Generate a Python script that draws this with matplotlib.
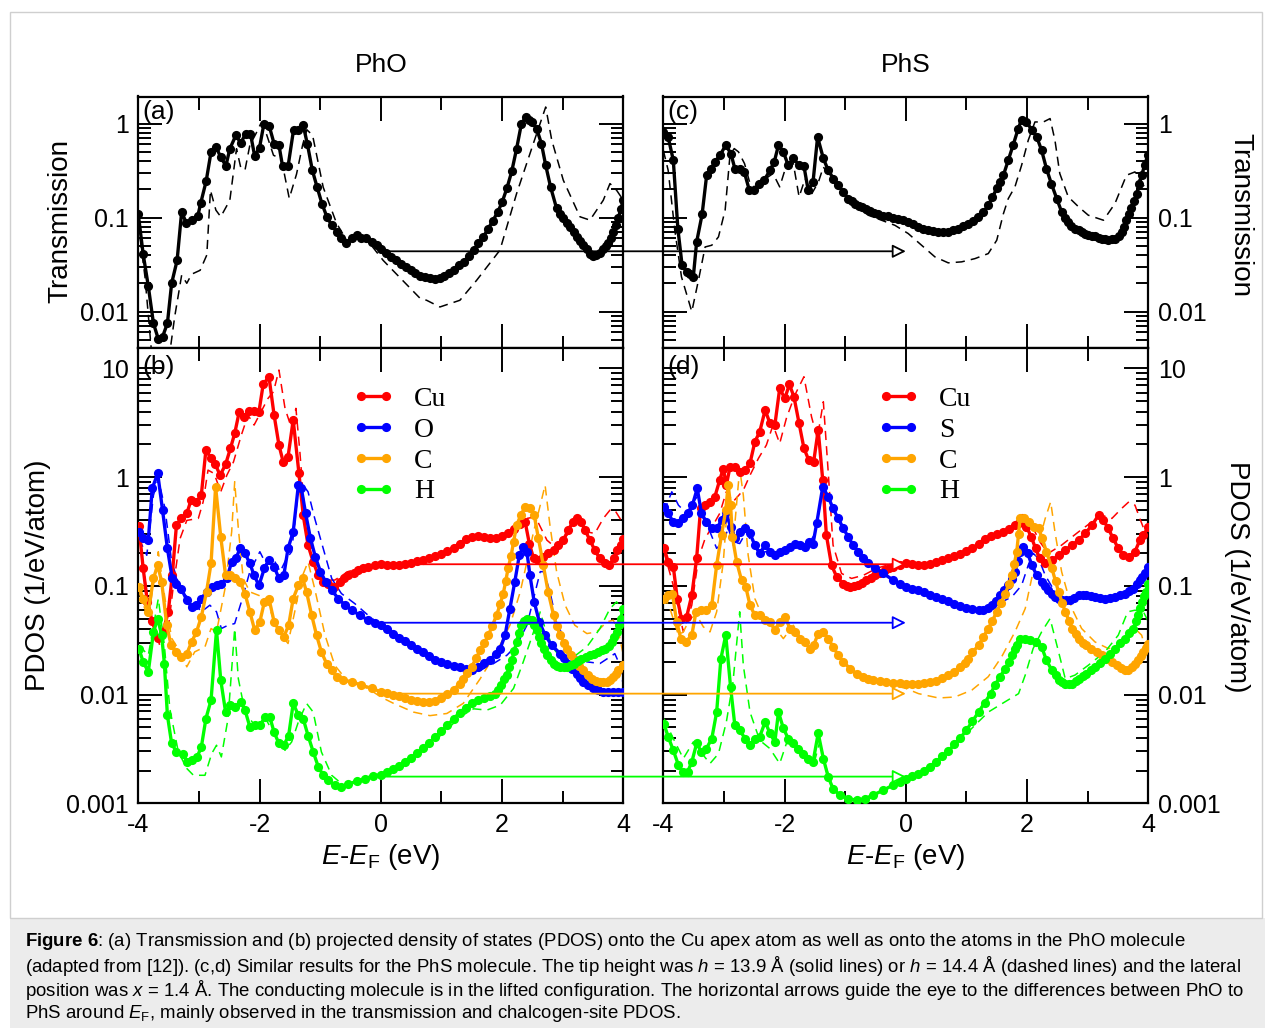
import numpy as np
import matplotlib
matplotlib.use("Agg")
import matplotlib.pyplot as plt
from matplotlib.patches import ConnectionPatch, Rectangle
from matplotlib.lines import Line2D
from matplotlib.ticker import FixedLocator, FuncFormatter, LogLocator, NullFormatter

plt.rcParams['font.family'] = ['Liberation Sans', 'DejaVu Sans']
plt.rcParams['mathtext.fontset'] = 'custom'
plt.rcParams['mathtext.rm'] = 'Liberation Sans'
plt.rcParams['mathtext.it'] = 'Liberation Sans:italic'
plt.rcParams['mathtext.bf'] = 'Liberation Sans:bold'

# ---------------- data: (energy E-EF [eV], value) ----------------
# Transmission, PhO (a)
T_pho_solid = [(-4.0,0.108),(-3.92,0.041),(-3.835,0.0186),(-3.75,0.0075),(-3.67,0.0051),(-3.60,0.0054),(-3.52,0.0075),
    (-3.45,0.020),(-3.36,0.035),(-3.285,0.115),(-3.21,0.088),(-3.12,0.094),(-3.02,0.103),(-2.97,0.143),(-2.88,0.245),
    (-2.80,0.50),(-2.72,0.565),(-2.64,0.44),(-2.555,0.355),(-2.49,0.54),(-2.39,0.75),(-2.31,0.62),(-2.23,0.78),(-2.15,0.78),
    (-2.08,0.45),(-2.00,0.556),(-1.93,0.98),(-1.84,0.94),(-1.76,0.61),(-1.68,0.59),(-1.62,0.35),(-1.53,0.35),(-1.44,0.85),
    (-1.36,0.86),(-1.28,0.96),(-1.21,0.60),(-1.13,0.32),(-1.05,0.21),(-0.97,0.14),(-0.89,0.102),(-0.81,0.083),(-0.73,0.071),
    (-0.65,0.060),(-0.57,0.053),(-0.48,0.060),(-0.40,0.065),(-0.32,0.060),(-0.24,0.060),(-0.15,0.055),(-0.07,0.051),
    (0.01,0.046),(0.09,0.042),(0.17,0.038),(0.25,0.035),(0.33,0.032),(0.41,0.030),(0.49,0.0275),(0.57,0.0255),(0.65,0.0242),
    (0.73,0.0234),(0.81,0.0228),(0.89,0.0223),(0.97,0.0228),(1.05,0.0240),(1.13,0.0258),(1.21,0.028),(1.29,0.031),
    (1.37,0.034),(1.45,0.039),(1.53,0.045),(1.61,0.053),(1.69,0.062),(1.77,0.076),(1.85,0.093),(1.93,0.115),(2.00,0.145),
    (2.08,0.205),(2.16,0.31),(2.24,0.54),(2.32,1.0),(2.39,1.16),(2.45,1.10),(2.49,1.04),(2.57,0.885),(2.65,0.61),(2.72,0.36),
    (2.80,0.212),(2.90,0.125),(2.96,0.11),(3.01,0.098),(3.07,0.088),(3.12,0.080),(3.18,0.071),(3.23,0.062),(3.29,0.056),
    (3.34,0.051),(3.40,0.046),(3.45,0.041),(3.50,0.0395),(3.55,0.040),(3.61,0.042),(3.66,0.046),(3.71,0.050),(3.75,0.054),
    (3.79,0.061),(3.83,0.070),(3.88,0.083),(3.92,0.10),(3.96,0.124),(4.0,0.152)]
T_pho_dash = [(-4.0,0.086),(-3.89,0.0234),(-3.78,0.0036),(-3.64,0.0022),(-3.49,0.0033),(-3.40,0.0088),(-3.285,0.0244),
    (-3.20,0.020),(-3.12,0.025),(-2.98,0.0275),(-2.87,0.040),(-2.81,0.195),(-2.72,0.12),(-2.64,0.102),(-2.49,0.153),
    (-2.38,0.54),(-2.31,0.34),(-2.24,0.32),(-2.16,0.59),(-2.06,0.78),(-1.98,1.0),(-1.91,0.86),(-1.77,0.46),(-1.64,0.42),
    (-1.51,0.16),(-1.39,0.29),(-1.29,0.59),(-1.22,0.86),(-1.125,0.75),(-0.95,0.21),(-0.73,0.087),(-0.56,0.057),(-0.40,0.062),
    (-0.18,0.053),(0.04,0.035),(0.26,0.025),(0.65,0.0138),(0.755,0.0132),(0.975,0.0112),(1.305,0.0132),(1.58,0.0215),
    (1.965,0.045),(2.24,0.18),(2.515,0.61),(2.72,1.5),(2.82,0.665),(3.01,0.25),(3.285,0.102),(3.45,0.094),(3.67,0.153),
    (3.78,0.23),(3.89,0.195),(4.0,0.153)]

# Transmission, PhS (c)
T_phs_solid = [(-4.0,0.815),(-3.92,0.72),(-3.835,0.407),(-3.76,0.0764),(-3.69,0.0311),(-3.615,0.0264),(-3.56,0.0254),
    (-3.505,0.0234),(-3.45,0.055),(-3.36,0.108),(-3.285,0.282),(-3.21,0.332),(-3.15,0.391),(-3.065,0.46),(-2.97,0.589),
    (-2.885,0.48),(-2.82,0.332),(-2.735,0.332),(-2.665,0.306),(-2.58,0.195),(-2.50,0.195),(-2.42,0.23),(-2.335,0.25),
    (-2.24,0.319),(-2.17,0.391),(-2.10,0.589),(-2.02,0.50),(-1.94,0.36),(-1.855,0.425),(-1.76,0.36),(-1.68,0.352),
    (-1.61,0.195),(-1.53,0.24),(-1.455,0.72),(-1.36,0.425),(-1.28,0.319),(-1.195,0.26),(-1.115,0.221),(-1.03,0.1875),
    (-0.95,0.159),(-0.89,0.149),(-0.84,0.141),(-0.78,0.134),(-0.73,0.128),(-0.66,0.123),(-0.59,0.118),(-0.52,0.113),
    (-0.455,0.108),(-0.37,0.105),(-0.29,0.103),(-0.21,0.100),(-0.125,0.0975),(-0.04,0.094),(0.04,0.09),(0.12,0.085),
    (0.205,0.0796),(0.29,0.076),(0.37,0.0733),(0.45,0.0715),(0.535,0.0704),(0.62,0.0700),(0.70,0.0704),(0.78,0.073),
    (0.865,0.0764),(0.95,0.081),(1.03,0.0863),(1.11,0.093),(1.195,0.1017),(1.28,0.115),(1.36,0.135),(1.43,0.165),
    (1.50,0.204),(1.56,0.24),(1.61,0.282),(1.69,0.407),(1.77,0.589),(1.855,0.885),(1.91,1.10),(1.99,1.04),(2.075,0.863),
    (2.16,0.72),(2.24,0.52),(2.32,0.332),(2.40,0.23),(2.49,0.159),(2.57,0.115),(2.62,0.10),(2.68,0.09),(2.73,0.082),
    (2.79,0.0764),(2.85,0.073),(2.90,0.0704),(2.96,0.067),(3.01,0.0649),(3.07,0.064),(3.12,0.0633),(3.18,0.061),
    (3.23,0.0598),(3.29,0.059),(3.34,0.0583),(3.40,0.059),(3.45,0.0598),(3.51,0.064),(3.56,0.0704),(3.60,0.08),
    (3.64,0.0937),(3.68,0.108),(3.72,0.125),(3.77,0.15),(3.81,0.18),(3.85,0.225),(3.89,0.282),(3.94,0.36),(3.99,0.46)]
T_phs_dash = [(-4.0,0.52),(-3.92,0.319),(-3.81,0.0733),(-3.70,0.0234),(-3.53,0.0100),(-3.42,0.0216),(-3.31,0.0487),
    (-3.20,0.0508),(-3.09,0.0623),(-2.98,0.12),(-2.90,0.46),(-2.83,0.542),(-2.76,0.50),(-2.66,0.375),(-2.57,0.23),
    (-2.49,0.212),(-2.38,0.23),(-2.27,0.271),(-2.19,0.294),(-2.08,0.212),(-1.97,0.36),(-1.855,0.375),(-1.76,0.166),
    (-1.66,0.26),(-1.55,0.18),(-1.44,0.24),(-1.36,0.346),(-1.22,0.25),(-1.06,0.1875),(-0.84,0.135),(-0.62,0.106),
    (-0.40,0.0937),(-0.18,0.0828),(0.04,0.0676),(0.26,0.0508),(0.48,0.0382),(0.70,0.033),(0.92,0.0338),(1.14,0.0366),
    (1.36,0.0414),(1.50,0.0574),(1.61,0.11),(1.69,0.159),(1.80,0.212),(1.91,0.36),(2.02,0.665),(2.13,1.04),(2.27,1.04),
    (2.38,1.13),(2.46,0.665),(2.54,0.294),(2.68,0.166),(2.85,0.13),(3.01,0.106),(3.26,0.0937),(3.45,0.141),(3.64,0.282),
    (3.78,0.306),(3.89,0.23),(4.0,0.195)]

# PDOS, PhO (b)
cu_pho = [(-3.99,0.354),(-3.92,0.145),(-3.85,0.071),(-3.77,0.047),(-3.68,0.033),(-3.59,0.038),(-3.505,0.058),(-3.44,0.125),
    (-3.37,0.366),(-3.29,0.417),(-3.20,0.463),(-3.13,0.614),(-3.04,0.593),(-2.96,0.69),(-2.885,1.77),(-2.80,1.49),
    (-2.73,1.31),(-2.65,1.04),(-2.56,1.31),(-2.48,1.84),(-2.41,2.52),(-2.335,3.99),(-2.26,3.59),(-2.18,4.05),(-2.09,4.05),
    (-2.01,3.99),(-1.94,7.13),(-1.845,8.38),(-1.76,3.72),(-1.68,1.97),(-1.61,1.38),(-1.53,1.54),(-1.445,3.35),(-1.35,1.08),
    (-1.28,0.447),(-1.20,0.237),(-1.115,0.166),(-1.03,0.125),(-0.95,0.109),(-0.87,0.103),(-0.77,0.098),(-0.68,0.109),
    (-0.60,0.117),(-0.54,0.125),(-0.45,0.132),(-0.37,0.139),(-0.29,0.145),(-0.21,0.150),(-0.1,0.155),
    (0.0,0.158),(0.1,0.156),(0.2,0.155),(0.3,0.157),(0.4,0.160),(0.5,0.163),(0.6,0.168),(0.7,0.174),(0.8,0.181),(0.9,0.188),
    (1.0,0.196),(1.1,0.207),(1.2,0.225),(1.3,0.245),(1.4,0.268),(1.5,0.284),(1.6,0.288),(1.7,0.280),(1.8,0.273),(1.9,0.278),
    (2.0,0.29),(2.1,0.305),(2.2,0.33),(2.3,0.37),(2.38,0.39),(2.45,0.245),(2.52,0.179),(2.6,0.172),(2.68,0.185),(2.76,0.199),
    (2.85,0.213),(2.93,0.237),(3.01,0.263),(3.09,0.325),(3.17,0.388),(3.23,0.417),(3.30,0.388),(3.37,0.325),(3.45,0.263),
    (3.53,0.213),(3.61,0.179),(3.70,0.161),(3.77,0.155),(3.84,0.179),(3.90,0.213),(3.96,0.24),(4.0,0.27)]
cu_pho_dash = [(-3.99,0.32),(-3.835,0.066),(-3.64,0.0275),(-3.505,0.041),(-3.42,0.102),(-3.31,0.273),(-3.20,0.40),
    (-3.01,0.417),(-2.93,0.593),(-2.85,1.16),(-2.75,1.08),(-2.64,0.733),(-2.54,1.04),(-2.43,1.38),(-2.30,2.44),(-2.19,3.72),
    (-2.09,3.01),(-1.99,3.85),(-1.86,5.30),(-1.77,6.10),(-1.68,9.66),(-1.58,4.29),(-1.48,2.90),(-1.40,4.29),(-1.335,1.71),
    (-1.25,0.417),(-1.17,0.206),(-1.06,0.135),(-0.92,0.113),(-0.76,0.113),(-0.54,0.135),(-0.21,0.155),(0.0,0.162),
    (0.2,0.157),(0.5,0.163),(0.8,0.180),(1.1,0.207),(1.4,0.27),(1.6,0.29),(1.8,0.275),(2.0,0.29),(2.2,0.33),(2.41,0.417),
    (2.55,0.431),(2.63,0.35),(2.74,0.263),(2.90,0.221),(3.07,0.292),(3.23,0.388),(3.40,0.314),(3.53,0.303),(3.67,0.417),
    (3.78,0.497),(3.86,0.497),(3.945,0.417),(4.0,0.37)]
o_pho = [(-3.99,0.314),(-3.92,0.273),(-3.835,0.263),(-3.77,0.787),(-3.68,1.08),(-3.60,0.497),(-3.52,0.221),(-3.44,0.117),
    (-3.37,0.105),(-3.29,0.094),(-3.20,0.0738),(-3.12,0.064),(-3.04,0.0664),(-2.96,0.0764),(-2.875,0.088),(-2.79,0.098),
    (-2.71,0.101),(-2.63,0.105),(-2.54,0.117),(-2.46,0.166),(-2.39,0.179),(-2.32,0.221),(-2.24,0.199),(-2.16,0.161),
    (-2.09,0.125),(-2.01,0.101),(-1.92,0.145),(-1.845,0.172),(-1.76,0.150),(-1.68,0.117),(-1.60,0.125),(-1.53,0.221),
    (-1.445,0.314),(-1.36,0.843),(-1.31,0.787),(-1.24,0.463),(-1.16,0.273),(-1.08,0.185),(-0.995,0.135),(-0.91,0.109),
    (-0.81,0.091),(-0.70,0.0764),(-0.59,0.0664),(-0.48,0.0597),(-0.345,0.0537),(-0.21,0.0483),(-0.1,0.0455),
    (0.0,0.044),(0.1,0.040),(0.2,0.036),(0.3,0.033),(0.4,0.031),(0.5,0.0285),(0.6,0.0265),(0.7,0.0245),(0.8,0.0224),
    (0.9,0.021),(1.0,0.020),(1.1,0.0192),(1.2,0.0185),(1.3,0.0178),(1.4,0.0172),(1.5,0.0167),(1.6,0.0178),(1.7,0.0194),
    (1.8,0.021),(1.9,0.0235),(1.97,0.0265),(2.05,0.0352),(2.13,0.0618),(2.21,0.109),(2.285,0.191),(2.35,0.229),(2.41,0.206),
    (2.46,0.125),(2.53,0.0713),(2.615,0.0467),(2.71,0.0352),(2.82,0.0284),(2.96,0.0238),(3.03,0.0215),(3.09,0.0193),
    (3.16,0.0173),(3.23,0.0156),(3.29,0.0142),(3.34,0.0131),(3.42,0.0122),(3.505,0.0114),(3.59,0.011),(3.67,0.0106),
    (3.75,0.0106),(3.835,0.0106),(3.92,0.0106),(3.99,0.0106)]
o_pho_dash = [(-3.99,0.273),(-3.86,0.191),(-3.75,0.682),(-3.67,0.97),(-3.56,0.515),(-3.45,0.166),(-3.29,0.088),(-3.09,0.0713),
    (-2.96,0.0577),(-2.82,0.0664),(-2.71,0.0577),(-2.63,0.0405),(-2.52,0.0434),(-2.41,0.045),(-2.30,0.0713),(-2.16,0.135),
    (-1.995,0.206),(-1.885,0.155),(-1.775,0.179),(-1.66,0.135),(-1.555,0.179),(-1.47,0.206),(-1.36,0.787),(-1.28,0.843),
    (-1.20,0.733),(-1.09,0.417),(-0.95,0.221),(-0.81,0.117),(-0.65,0.085),(-0.43,0.0687),(-0.21,0.0537),(0.0,0.0434),
    (0.2,0.038),(0.5,0.029),(0.8,0.0225),(1.1,0.019),(1.42,0.0156),(1.64,0.0167),(1.86,0.0193),(2.08,0.023),(2.24,0.0284),
    (2.41,0.0434),(2.52,0.0764),(2.63,0.135),(2.69,0.135),(2.79,0.088),(2.90,0.0467),(3.07,0.0284),(3.23,0.0222),
    (3.40,0.020),(3.615,0.0193),(3.78,0.0222),(3.86,0.0238),(3.945,0.0186),(3.99,0.0131)]
c_pho = [(-3.99,0.098),(-3.92,0.0764),(-3.835,0.0577),(-3.75,0.117),(-3.68,0.155),(-3.615,0.109),(-3.53,0.0434),
    (-3.46,0.0284),(-3.385,0.0247),(-3.30,0.0222),(-3.20,0.0238),(-3.12,0.0305),(-3.04,0.0377),(-2.96,0.0519),(-2.875,0.088),
    (-2.80,0.161),(-2.725,0.814),(-2.64,0.282),(-2.56,0.125),(-2.48,0.125),(-2.41,0.117),(-2.32,0.109),(-2.24,0.085),
    (-2.16,0.0577),(-2.08,0.0391),(-1.995,0.0467),(-1.92,0.0713),(-1.845,0.0764),(-1.76,0.0467),(-1.68,0.0391),(-1.60,0.034),
    (-1.52,0.0434),(-1.445,0.0764),(-1.36,0.101),(-1.29,0.117),(-1.225,0.088),(-1.14,0.0537),(-1.06,0.0352),(-0.98,0.0247),
    (-0.895,0.0193),(-0.81,0.0167),(-0.73,0.0146),(-0.62,0.0136),(-0.48,0.0131),(-0.32,0.0122),(-0.15,0.0114),
    (0.0,0.0106),(0.1,0.0103),(0.2,0.0100),(0.3,0.0096),(0.4,0.0093),(0.5,0.0090),(0.6,0.0088),(0.7,0.0086),(0.8,0.0086),
    (0.9,0.0088),(1.0,0.0093),(1.1,0.0101),(1.2,0.011),(1.3,0.0126),(1.36,0.014),(1.43,0.0158),(1.50,0.018),(1.57,0.0215),
    (1.64,0.0256),(1.71,0.030),(1.775,0.0352),(1.84,0.043),(1.91,0.0537),(1.97,0.068),(2.02,0.085),(2.06,0.11),(2.10,0.145),
    (2.15,0.19),(2.19,0.254),(2.24,0.361),(2.31,0.447),(2.38,0.533),(2.46,0.522),(2.53,0.447),(2.60,0.273),(2.68,0.155),
    (2.76,0.088),(2.85,0.0537),(2.90,0.043),(2.96,0.0352),(3.02,0.030),(3.07,0.0265),(3.14,0.023),(3.20,0.0207),
    (3.27,0.0185),(3.34,0.0167),(3.41,0.015),(3.48,0.014),(3.55,0.0134),(3.615,0.0131),(3.67,0.013),(3.725,0.0131),
    (3.78,0.0137),(3.835,0.0146),(3.88,0.0155),(3.92,0.0167),(3.99,0.0186)]
c_pho_dash = [(-3.99,0.088),(-3.835,0.050),(-3.67,0.206),(-3.56,0.0764),(-3.45,0.033),(-3.31,0.0247),(-3.20,0.018),
    (-3.07,0.0247),(-2.90,0.0275),(-2.80,0.0405),(-2.71,0.0377),(-2.57,0.094),(-2.46,0.314),(-2.41,0.906),(-2.35,0.337),
    (-2.27,0.117),(-2.16,0.088),(-2.02,0.082),(-1.885,0.0764),(-1.775,0.050),(-1.64,0.0352),(-1.53,0.0295),(-1.42,0.0577),
    (-1.31,0.117),(-1.20,0.166),(-1.09,0.094),(-0.92,0.0352),(-0.76,0.0186),(-0.54,0.0131),(-0.21,0.0114),(0.0,0.0095),
    (0.21,0.0083),(0.54,0.0069),(0.81,0.0064),(1.09,0.0067),(1.36,0.0083),(1.64,0.014),(1.91,0.0247),(2.13,0.0434),
    (2.30,0.088),(2.41,0.166),(2.52,0.314),(2.63,0.552),(2.71,0.843),(2.79,0.361),(2.90,0.135),(3.04,0.0664),(3.20,0.0434),
    (3.40,0.0364),(3.56,0.0377),(3.73,0.0467),(3.835,0.0483),(3.92,0.0377),(3.99,0.0247)]
h_pho = [(-3.99,0.0265),(-3.92,0.020),(-3.835,0.0162),(-3.75,0.0377),(-3.68,0.050),(-3.615,0.0352),(-3.57,0.0193),
    (-3.52,0.00646),(-3.45,0.00355),(-3.37,0.00297),(-3.27,0.00286),(-3.19,0.0024),(-3.11,0.00249),(-3.03,0.00267),
    (-2.96,0.0033),(-2.885,0.006),(-2.80,0.0089),(-2.71,0.0391),(-2.64,0.0136),(-2.56,0.0069),(-2.48,0.008),(-2.40,0.0077),
    (-2.31,0.0086),(-2.24,0.0072),(-2.16,0.00505),(-2.08,0.0052),(-1.995,0.0052),(-1.91,0.0062),(-1.83,0.0062),
    (-1.76,0.0045),(-1.68,0.00355),(-1.60,0.00342),(-1.52,0.0042),(-1.445,0.0083),(-1.36,0.00646),(-1.28,0.006),
    (-1.20,0.0042),(-1.115,0.00297),(-1.03,0.00216),(-0.95,0.00181),(-0.87,0.00163),(-0.76,0.00147),(-0.65,0.00141),
    (-0.54,0.00149),(-0.40,0.0016),(-0.26,0.00169),(-0.13,0.00178),
    (0.0,0.00184),(0.1,0.00195),(0.2,0.00207),(0.3,0.0022),(0.4,0.00242),(0.5,0.00263),(0.6,0.00292),(0.7,0.0032),
    (0.8,0.0036),(0.9,0.0041),(1.0,0.0046),(1.1,0.0052),(1.2,0.0060),(1.3,0.0068),(1.4,0.0076),(1.5,0.0083),(1.6,0.0089),
    (1.7,0.0093),(1.8,0.0097),(1.885,0.0102),(1.94,0.011),(1.99,0.0122),(2.04,0.014),(2.08,0.0151),(2.12,0.018),
    (2.16,0.0207),(2.20,0.025),(2.24,0.0305),(2.28,0.037),(2.32,0.0434),(2.37,0.048),(2.41,0.050),(2.45,0.049),
    (2.49,0.0483),(2.53,0.044),(2.57,0.0391),(2.61,0.034),(2.65,0.0295),(2.70,0.026),(2.74,0.023),(2.80,0.021),
    (2.85,0.0193),(2.91,0.0185),(2.96,0.018),(3.02,0.018),(3.07,0.018),(3.13,0.0186),(3.18,0.0193),(3.25,0.0203),
    (3.31,0.0214),(3.38,0.0222),(3.45,0.023),(3.52,0.0238),(3.59,0.0247),(3.65,0.0255),(3.70,0.0265),(3.76,0.028),
    (3.81,0.0305),(3.85,0.034),(3.89,0.0377),(3.93,0.044),(3.96,0.050),(3.99,0.0618)]
h_pho_dash = [(-3.99,0.0284),(-3.835,0.023),(-3.67,0.0764),(-3.57,0.0284),(-3.48,0.0074),(-3.34,0.00297),(-3.20,0.00209),
    (-3.09,0.00181),(-2.90,0.00181),(-2.79,0.00286),(-2.71,0.00342),(-2.63,0.00267),(-2.52,0.006),(-2.41,0.0405),
    (-2.35,0.014),(-2.24,0.0069),(-2.08,0.0052),(-1.885,0.0058),(-1.745,0.0042),(-1.58,0.00307),(-1.47,0.00367),
    (-1.36,0.0056),(-1.225,0.0083),(-1.115,0.0069),(-0.98,0.00297),(-0.81,0.00181),(-0.62,0.00147),(-0.40,0.00158),
    (0.0,0.00181),(0.2,0.0020),(0.5,0.0025),(0.8,0.0034),(1.1,0.0048),(1.3,0.0062),(1.53,0.0074),(1.75,0.0072),(1.97,0.008),
    (2.19,0.0114),(2.35,0.020),(2.52,0.0377),(2.63,0.0577),(2.71,0.0405),(2.85,0.0265),(2.98,0.0214),(3.18,0.0222),
    (3.40,0.0275),(3.615,0.0405),(3.78,0.0618),(3.89,0.0713),(3.99,0.0577)]

# PDOS, PhS (d)
cu_phs = [(-3.99,0.225),(-3.92,0.166),(-3.835,0.150),(-3.77,0.0764),(-3.70,0.050),(-3.615,0.0519),(-3.53,0.082),
    (-3.45,0.179),(-3.385,0.515),(-3.31,0.552),(-3.23,0.593),(-3.15,0.659),(-3.07,0.937),(-3.01,1.20),(-2.96,0.843),
    (-2.90,1.24),(-2.82,1.24),(-2.74,1.12),(-2.65,1.16),(-2.57,1.34),(-2.49,2.11),(-2.41,2.61),(-2.32,4.14),(-2.24,3.12),
    (-2.16,3.01),(-2.08,6.55),(-1.995,5.30),(-1.92,7.13),(-1.845,5.48),(-1.76,3.12),(-1.68,1.84),(-1.60,1.43),(-1.52,1.38),
    (-1.445,2.71),(-1.37,0.937),(-1.31,0.292),(-1.225,0.155),(-1.14,0.121),(-1.03,0.105),(-0.97,0.10),(-0.92,0.098),
    (-0.85,0.099),(-0.785,0.101),(-0.72,0.107),(-0.65,0.113),(-0.58,0.119),(-0.51,0.125),(-0.43,0.132),(-0.345,0.139),
    (-0.28,0.145),(-0.21,0.150),(-0.1,0.156),
    (0.0,0.161),(0.1,0.158),(0.2,0.155),(0.3,0.157),(0.4,0.160),(0.5,0.165),(0.6,0.173),(0.7,0.181),(0.8,0.188),(0.9,0.195),
    (1.0,0.207),(1.1,0.222),(1.2,0.245),(1.3,0.27),(1.4,0.286),(1.5,0.30),(1.6,0.315),(1.7,0.333),(1.8,0.36),(1.86,0.375),
    (1.91,0.417),(1.99,0.35),(2.07,0.282),(2.14,0.221),(2.21,0.179),(2.30,0.161),(2.41,0.172),(2.52,0.191),(2.63,0.213),
    (2.74,0.237),(2.85,0.263),(2.96,0.303),(3.07,0.361),(3.18,0.447),(3.26,0.40),(3.34,0.337),(3.42,0.273),(3.505,0.221),
    (3.59,0.191),(3.68,0.185),(3.78,0.206),(3.86,0.263),(3.92,0.292),(4.0,0.35)]
cu_phs_dash = [(-3.99,0.206),(-3.835,0.101),(-3.67,0.0377),(-3.53,0.0664),(-3.42,0.179),(-3.31,0.273),(-3.18,0.361),
    (-3.07,0.463),(-2.96,0.733),(-2.85,0.593),(-2.68,0.759),(-2.57,1.04),(-2.43,1.49),(-2.30,1.97),(-2.19,3.01),(-2.08,2.04),
    (-1.97,3.47),(-1.83,5.69),(-1.68,8.38),(-1.555,3.59),(-1.46,2.27),(-1.36,4.93),(-1.28,1.12),(-1.20,0.237),(-1.06,0.130),
    (-0.895,0.117),(-0.70,0.125),(-0.48,0.145),(-0.21,0.161),(0.0,0.166),(0.2,0.155),(0.5,0.165),(0.8,0.186),(1.1,0.222),
    (1.4,0.28),(1.7,0.33),(1.97,0.40),(2.13,0.314),(2.22,0.25),(2.35,0.199),(2.57,0.237),(2.85,0.314),(3.07,0.388),
    (3.23,0.447),(3.40,0.417),(3.56,0.515),(3.68,0.593),(3.78,0.552),(3.86,0.417),(3.945,0.314),(4.0,0.32)]
s_phs = [(-3.99,0.533),(-3.92,0.463),(-3.835,0.388),(-3.75,0.375),(-3.67,0.417),(-3.59,0.463),(-3.52,0.552),(-3.44,0.787),
    (-3.37,0.463),(-3.29,0.388),(-3.20,0.337),(-3.12,0.337),(-3.04,0.40),(-2.97,0.48),(-2.89,0.35),(-2.82,0.273),(-2.74,0.314),
    (-2.65,0.337),(-2.57,0.303),(-2.49,0.237),(-2.41,0.199),(-2.32,0.237),(-2.24,0.206),(-2.16,0.191),(-2.08,0.206),
    (-1.995,0.213),(-1.91,0.229),(-1.83,0.245),(-1.745,0.237),(-1.665,0.229),(-1.59,0.254),(-1.53,0.245),(-1.47,0.375),
    (-1.37,0.814),(-1.28,0.659),(-1.20,0.515),(-1.115,0.417),(-1.03,0.337),(-0.95,0.282),(-0.87,0.237),(-0.785,0.206),
    (-0.70,0.179),(-0.62,0.161),(-0.51,0.145),(-0.37,0.130),(-0.21,0.113),(-0.1,0.105),
    (0.0,0.098),(0.1,0.094),(0.2,0.091),(0.3,0.087),(0.4,0.083),(0.5,0.079),(0.6,0.0755),(0.7,0.072),(0.8,0.0685),
    (0.9,0.0655),(1.0,0.063),(1.1,0.0615),(1.2,0.060),(1.28,0.0597),(1.35,0.062),(1.42,0.0664),(1.49,0.073),(1.55,0.082),
    (1.62,0.091),(1.69,0.101),(1.75,0.115),(1.80,0.135),(1.85,0.17),(1.885,0.206),(1.94,0.229),(2.01,0.199),(2.08,0.155),
    (2.16,0.125),(2.24,0.109),(2.30,0.099),(2.35,0.091),(2.41,0.085),(2.46,0.0792),(2.52,0.076),(2.57,0.0738),(2.64,0.0735),
    (2.71,0.0738),(2.78,0.078),(2.85,0.082),(2.92,0.082),(2.98,0.082),(3.05,0.081),(3.12,0.0792),(3.20,0.078),
    (3.285,0.0764),(3.37,0.078),(3.45,0.0792),(3.53,0.082),(3.615,0.085),(3.68,0.089),(3.75,0.094),(3.81,0.103),
    (3.86,0.113),(3.90,0.121),(3.945,0.130),(4.0,0.150)]
s_phs_dash = [(-3.99,0.48),(-3.86,0.733),(-3.75,0.552),(-3.615,0.463),(-3.505,0.593),(-3.42,0.682),(-3.34,0.417),
    (-3.23,0.314),(-3.12,0.221),(-3.01,0.254),(-2.93,0.337),(-2.85,0.254),(-2.74,0.245),(-2.63,0.314),(-2.52,0.237),
    (-2.41,0.20),(-2.24,0.21),(-2.08,0.21),(-1.91,0.23),(-1.745,0.237),(-1.59,0.25),(-1.50,0.30),(-1.40,0.6),(-1.36,0.78),
    (-1.28,0.66),(-1.20,0.52),(-1.03,0.34),(-0.87,0.24),(-0.70,0.18),(-0.51,0.145),(-0.21,0.113),(0.0,0.098),(0.3,0.087),
    (0.65,0.0738),(0.9,0.066),(1.1,0.061),(1.31,0.0577),(1.53,0.0687),(1.75,0.0792),(1.91,0.101),(2.02,0.155),(2.10,0.199),
    (2.19,0.179),(2.30,0.125),(2.46,0.088),(2.63,0.0764),(2.85,0.082),(3.12,0.0792),(3.45,0.0792),(3.75,0.094),
    (3.86,0.113),(4.0,0.15)]
c_phs = [(-3.99,0.0764),(-3.92,0.082),(-3.85,0.085),(-3.78,0.0467),(-3.71,0.0327),(-3.63,0.0305),(-3.53,0.0352),
    (-3.46,0.0577),(-3.37,0.0597),(-3.29,0.0597),(-3.20,0.0664),(-3.12,0.155),(-3.04,0.292),(-2.97,0.497),(-2.93,0.843),
    (-2.89,0.552),(-2.86,0.282),(-2.79,0.166),(-2.71,0.113),(-2.64,0.098),(-2.57,0.0664),(-2.49,0.0537),(-2.41,0.0537),
    (-2.32,0.0483),(-2.24,0.0467),(-2.16,0.0391),(-2.08,0.0467),(-1.995,0.0519),(-1.91,0.0405),(-1.83,0.0377),
    (-1.745,0.0327),(-1.665,0.0305),(-1.58,0.0265),(-1.52,0.0284),(-1.445,0.0364),(-1.36,0.0377),(-1.28,0.0327),
    (-1.20,0.0275),(-1.115,0.023),(-1.03,0.020),(-0.92,0.0173),(-0.81,0.0156),(-0.70,0.0146),(-0.62,0.014),(-0.54,0.0136),
    (-0.43,0.0133),(-0.32,0.0131),(-0.21,0.0129),(-0.1,0.0127),
    (0.0,0.0126),(0.1,0.0126),(0.2,0.0126),(0.3,0.0127),(0.4,0.013),(0.5,0.0134),(0.6,0.0141),(0.7,0.015),(0.8,0.0163),
    (0.9,0.0178),(0.97,0.0195),(1.03,0.0214),(1.1,0.0245),(1.2,0.0284),(1.28,0.034),(1.36,0.0405),(1.43,0.048),(1.50,0.0577),
    (1.57,0.07),(1.64,0.085),(1.70,0.103),(1.75,0.125),(1.79,0.16),(1.83,0.206),(1.86,0.3),(1.885,0.417),(1.955,0.417),
    (2.03,0.388),(2.12,0.35),(2.19,0.337),(2.25,0.273),(2.32,0.206),(2.41,0.145),(2.47,0.11),(2.52,0.088),(2.58,0.07),
    (2.63,0.0577),(2.69,0.048),(2.74,0.0405),(2.80,0.036),(2.85,0.0327),(2.92,0.030),(2.98,0.0284),(3.06,0.0265),
    (3.15,0.0247),(3.23,0.023),(3.31,0.0214),(3.40,0.020),(3.48,0.0186),(3.55,0.0176),(3.615,0.0167),(3.67,0.017),
    (3.725,0.018),(3.78,0.0193),(3.835,0.0207),(3.88,0.0225),(3.92,0.0247),(3.96,0.027),(4.0,0.0294)]
c_phs_dash = [(-3.99,0.082),(-3.89,0.0618),(-3.75,0.0352),(-3.67,0.0377),(-3.56,0.050),(-3.45,0.0537),(-3.34,0.042),
    (-3.23,0.0377),(-3.12,0.0577),(-3.01,0.166),(-2.93,0.682),(-2.85,0.237),(-2.74,1.20),(-2.68,0.682),(-2.60,0.191),
    (-2.49,0.0764),(-2.35,0.050),(-2.19,0.0434),(-2.02,0.0327),(-1.855,0.0434),(-1.70,0.031),(-1.58,0.027),(-1.45,0.036),
    (-1.36,0.037),(-1.20,0.028),(-1.03,0.020),(-0.80,0.0155),(-0.50,0.013),(-0.21,0.0122),(0.0,0.0114),(0.21,0.0102),
    (0.54,0.0093),(0.81,0.0095),(1.09,0.011),(1.36,0.0146),(1.58,0.0222),(1.80,0.0377),(1.97,0.0618),(2.10,0.135),
    (2.21,0.273),(2.30,0.417),(2.39,0.593),(2.46,0.314),(2.57,0.135),(2.74,0.0618),(2.90,0.0405),(3.12,0.0305),
    (3.34,0.0265),(3.505,0.0275),(3.64,0.0352),(3.78,0.0405),(3.89,0.0352),(4.0,0.0214)]
h_phs = [(-3.99,0.0054),(-3.92,0.0041),(-3.835,0.00307),(-3.75,0.00224),(-3.68,0.00194),(-3.60,0.00194),(-3.53,0.0024),
    (-3.45,0.00355),(-3.37,0.00297),(-3.29,0.00318),(-3.20,0.00394),(-3.12,0.0069),(-3.05,0.0214),(-2.97,0.0352),
    (-2.89,0.0117),(-2.82,0.0052),(-2.74,0.0047),(-2.65,0.00394),(-2.57,0.00342),(-2.49,0.00394),(-2.41,0.0041),
    (-2.32,0.0056),(-2.24,0.0044),(-2.16,0.00367),(-2.10,0.0069),(-2.02,0.0049),(-1.94,0.00394),(-1.855,0.00355),
    (-1.775,0.00318),(-1.69,0.00286),(-1.61,0.00258),(-1.53,0.0024),(-1.445,0.0044),(-1.36,0.00258),(-1.28,0.00175),
    (-1.20,0.00136),(-1.09,0.00119),(-0.95,0.0011),(-0.81,0.00107),(-0.68,0.0011),(-0.54,0.00119),(-0.37,0.00132),
    (-0.21,0.00147),(-0.1,0.00158),
    (0.0,0.00169),(0.1,0.00177),(0.2,0.00187),(0.3,0.002),(0.4,0.00218),(0.5,0.00242),(0.6,0.0027),(0.7,0.003),(0.8,0.0035),
    (0.9,0.004),(1.0,0.0047),(1.1,0.0057),(1.2,0.0069),(1.3,0.0084),(1.4,0.0102),(1.47,0.0122),(1.55,0.0145),(1.64,0.0173),
    (1.70,0.020),(1.75,0.023),(1.80,0.026),(1.83,0.0284),(1.885,0.0327),(1.97,0.0327),(2.05,0.0316),(2.14,0.0305),
    (2.24,0.0275),(2.32,0.0207),(2.41,0.0167),(2.47,0.015),(2.52,0.0136),(2.58,0.013),(2.63,0.0126),(2.69,0.0125),
    (2.74,0.0126),(2.80,0.0133),(2.85,0.014),(2.92,0.0148),(2.98,0.0156),(3.05,0.0167),(3.12,0.018),(3.20,0.0196),
    (3.285,0.0214),(3.37,0.0238),(3.45,0.0265),(3.53,0.0295),(3.615,0.0327),(3.68,0.0365),(3.75,0.0405),(3.80,0.047),
    (3.835,0.0537),(3.87,0.062),(3.90,0.0713),(3.93,0.08),(3.96,0.088),(4.0,0.105)]
h_phs_dash = [(-3.99,0.006),(-3.835,0.00394),(-3.67,0.00258),(-3.505,0.00367),(-3.34,0.00277),(-3.23,0.00232),
    (-3.09,0.00286),(-2.96,0.0056),(-2.85,0.0131),(-2.74,0.0577),(-2.68,0.0186),(-2.57,0.0069),(-2.41,0.0038),
    (-2.24,0.00318),(-2.08,0.00232),(-1.97,0.00355),(-1.80,0.00342),(-1.64,0.00286),(-1.53,0.00216),(-1.42,0.00367),
    (-1.31,0.00209),(-1.20,0.00135),(-0.90,0.00108),(-0.60,0.0011),(-0.30,0.0014),(0.0,0.0016),(0.3,0.0019),(0.6,0.0026),
    (0.87,0.0037),(1.09,0.0049),(1.36,0.0069),(1.64,0.0086),(1.86,0.0102),(1.97,0.0151),(2.10,0.0265),(2.24,0.0377),
    (2.38,0.050),(2.52,0.0247),(2.63,0.014),(2.79,0.0151),(3.01,0.0186),(3.285,0.0247),(3.505,0.0352),(3.66,0.0577),
    (3.78,0.0597),(3.92,0.0577),(4.0,0.0467)]

# guide-arrow levels (value at E-EF = 0)
arrow_T = 0.0438
arrow_pdos = {'red': 0.158, 'blue': 0.0458, 'orange': 0.0102, 'lime': 0.00176}

legend_pho = ['Cu', 'O', 'C', 'H']
legend_phs = ['Cu', 'S', 'C', 'H']
colors = ['red', 'blue', 'orange', 'lime']

# ---------------- figure ----------------
W, H = 1265, 1028
fig = plt.figure(figsize=(W / 100, H / 100), dpi=100)

# frame and caption background
fig.add_artist(Rectangle((10 / W, 0), (W - 10) / W, (H - 918) / H, transform=fig.transFigure,
                         facecolor='#ececec', edgecolor='none', zorder=0))
fig.add_artist(Rectangle((10 / W, 1 - 918 / H), (1262 - 10) / W, (918 - 12) / H, transform=fig.transFigure,
                         fill=False, edgecolor='#cfcfcf', lw=1.0, zorder=0))


def fr(x0, y0, x1, y1):
    return [x0 / W, 1 - y1 / H, (x1 - x0) / W, (y1 - y0) / H]


axA = fig.add_axes(fr(138.3, 96.5, 623.3, 348))
axB = fig.add_axes(fr(138.3, 348, 623.3, 803.3))
axC = fig.add_axes(fr(663.3, 96.5, 1148.3, 348))
axD = fig.add_axes(fr(663.3, 348, 1148.3, 803.3))


def yfmt(v, pos):
    return {0.001: '0.001', 0.01: '0.01', 0.1: '0.1', 1: '1', 10: '10'}.get(round(v, 4), '')


def style(ax, ylim, left, right, bottom):
    ax.set_xlim(-4, 4)
    ax.set_yscale('log')
    ax.set_ylim(*ylim)
    ax.xaxis.set_major_locator(FixedLocator([-4, -2, 0, 2, 4]))
    ax.xaxis.set_minor_locator(FixedLocator([-3, -1, 1, 3]))
    ax.xaxis.set_major_formatter(FuncFormatter(lambda v, p: '%d' % v))
    ax.yaxis.set_major_locator(LogLocator(base=10, numticks=10))
    ax.yaxis.set_minor_locator(LogLocator(base=10, subs=np.arange(2, 10), numticks=20))
    ax.yaxis.set_major_formatter(FuncFormatter(yfmt))
    ax.yaxis.set_minor_formatter(NullFormatter())
    ax.tick_params(which='both', direction='in', top=True, right=True, width=1.4)
    ax.tick_params(which='major', length=17)
    ax.tick_params(which='minor', length=9)
    ax.tick_params(axis='both', labelsize=18, pad=7)
    ax.tick_params(labelleft=left, labelright=right, labelbottom=bottom, labeltop=False)
    for s in ax.spines.values():
        s.set_linewidth(1.6)


style(axA, (0.0041, 1.94), True, False, False)
style(axC, (0.0041, 1.94), False, True, False)
style(axB, (0.001, 15.4), True, False, True)
style(axD, (0.001, 15.4), False, True, True)

DASH = (0, (6, 4))
LW, MS = 2.4, 6.6


def draw(ax, data, color, dashed=False):
    e = [p[0] for p in data]
    v = [p[1] for p in data]
    if dashed:
        ax.plot(e, v, color=color, lw=1.1, ls=DASH, zorder=2)
    else:
        ax.plot(e, v, color=color, lw=LW, marker='o', ms=MS, mew=0, zorder=3)


draw(axA, T_pho_dash, 'black', True)
draw(axA, T_pho_solid, 'black')
draw(axC, T_phs_dash, 'black', True)
draw(axC, T_phs_solid, 'black')

for data, c in zip([cu_pho_dash, o_pho_dash, c_pho_dash, h_pho_dash], colors):
    draw(axB, data, c, True)
for data, c in zip([cu_pho, o_pho, c_pho, h_pho], colors):
    draw(axB, data, c)
for data, c in zip([cu_phs_dash, s_phs_dash, c_phs_dash, h_phs_dash], colors):
    draw(axD, data, c, True)
for data, c in zip([cu_phs, s_phs, c_phs, h_phs], colors):
    draw(axD, data, c)

# panel letters
for ax, lab in [(axA, '(a)'), (axB, '(b)'), (axC, '(c)'), (axD, '(d)')]:
    ax.text(0.008, 0.985, lab, transform=ax.transAxes, ha='left', va='top', fontsize=19)

# legends
for ax, names in [(axB, legend_pho), (axD, legend_phs)]:
    handles = [Line2D([0], [0], color=c, lw=LW, marker='o', ms=MS, mew=0) for c in colors]
    ax.legend(handles, names, loc='upper left', bbox_to_anchor=(0.441, 0.915), frameon=False,
              numpoints=2, handlelength=1.5, handletextpad=0.72, labelspacing=0.19, borderpad=0,
              borderaxespad=0, prop={'family': 'Liberation Serif', 'size': 20})

# guide arrows from PhO panel to PhS panel
def guide(axL, axR, y, color):
    con = ConnectionPatch(xyA=(0, y), coordsA=axL.transData, xyB=(0, y), coordsB=axR.transData,
                          arrowstyle='-|>', mutation_scale=20, lw=1.3, edgecolor=color, facecolor='white',
                          shrinkA=0, shrinkB=0, zorder=5)
    fig.add_artist(con)


guide(axA, axC, arrow_T, 'black')
for c in colors:
    guide(axB, axD, arrow_pdos[c], c)

# titles and axis labels
fig.text(381 / W, 1 - 65 / H, 'PhO', ha='center', va='center', fontsize=19)
fig.text(906 / W, 1 - 65 / H, 'PhS', ha='center', va='center', fontsize=19)
fig.text(60 / W, 1 - 221 / H, 'Transmission', rotation=90, ha='center', va='center', fontsize=20)
fig.text(38 / W, 1 - 575 / H, 'PDOS (1/eV/atom)', rotation=90, ha='center', va='center', fontsize=20)
fig.text(1240 / W, 1 - 215 / H, 'Transmission', rotation=270, ha='center', va='center', fontsize=20)
fig.text(1237 / W, 1 - 577 / H, 'PDOS (1/eV/atom)', rotation=270, ha='center', va='center', fontsize=20)
xl = r'$\mathit{E}$-$\mathit{E}_\mathrm{F}$ (eV)'
fig.text(381 / W, 1 - 857 / H, xl, ha='center', va='center', fontsize=20)
fig.text(906 / W, 1 - 857 / H, xl, ha='center', va='center', fontsize=20)

# caption
cap = [r'$\mathbf{Figure\ 6}$: (a) Transmission and (b) projected density of states (PDOS) onto the Cu apex atom as well as onto the atoms in the PhO molecule',
       r'(adapted from [12]). (c,d) Similar results for the PhS molecule. The tip height was $\mathit{h}$ = 13.9 Å (solid lines) or $\mathit{h}$ = 14.4 Å (dashed lines) and the lateral',
       r'position was $\mathit{x}$ = 1.4 Å. The conducting molecule is in the lifted configuration. The horizontal arrows guide the eye to the differences between PhO to',
       r'PhS around $\mathit{E}_\mathrm{F}$, mainly observed in the transmission and chalcogen-site PDOS.']
for i, line in enumerate(cap):
    fig.text(25 / W, 1 - (942 + 24 * i) / H, line, ha='left', va='center', fontsize=13.4)

fig.savefig('out.png', dpi=100)
